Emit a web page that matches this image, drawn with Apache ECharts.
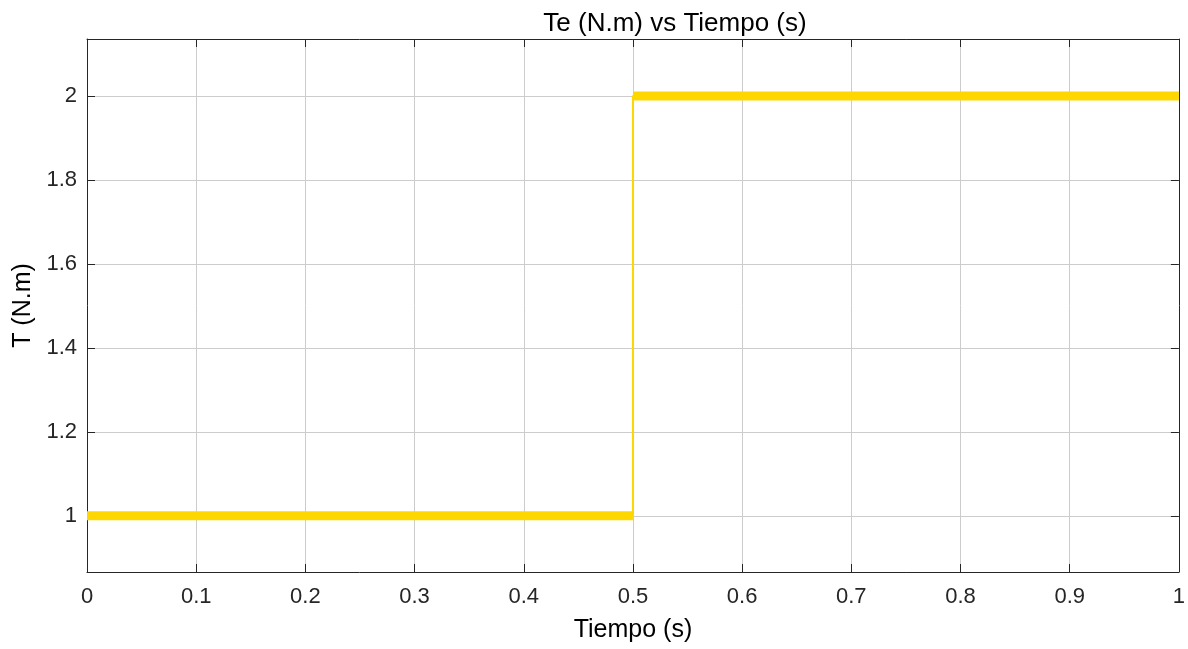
<!DOCTYPE html>
<html>
<head>
<meta charset="utf-8">
<script src="https://cdn.jsdelivr.net/npm/echarts@6/dist/echarts.min.js"></script>
<style>
html,body{margin:0;padding:0;background:#fff;}
#chart{width:1188px;height:649px;}
</style>
</head>
<body>
<div id="chart"></div>
<script>
// Data
var tiempo = [0, 0.5, 0.5, 1];
var torque = [1, 1, 2, 2];
var xTicks = [0, 0.1, 0.2, 0.3, 0.4, 0.5, 0.6, 0.7, 0.8, 0.9, 1];
var yTicks = [1, 1.2, 1.4, 1.6, 1.8, 2];
var xRange = [0, 1];
var yRange = [0.866, 2.136];

var stepData = tiempo.map(function (t, i) { return [t, torque[i]]; });
// flat segments (drawn thick) — break where value changes
var flatData = [];
for (var i = 0; i < tiempo.length; i++) {
  if (i > 0 && torque[i] !== torque[i - 1]) flatData.push([tiempo[i], '-']);
  flatData.push([tiempo[i], torque[i]]);
}

var font = 'Liberation Sans, Arial, Helvetica, sans-serif';
var axisColor = '#262626';
var gridColor = '#cccccc';

function fmt(v) { return String(Math.round(v * 10) / 10); }

var chart = echarts.init(document.getElementById('chart'), null, { renderer: 'canvas' });
chart.setOption({
  backgroundColor: '#fff',
  animation: false,
  title: {
    text: 'Te (N.m) vs Tiempo (s)',
    left: 670, textAlign: 'center', top: 6,
    textStyle: { fontFamily: font, fontSize: 26, fontWeight: 'normal', color: '#000' }
  },
  grid: { left: 87, right: 9, top: 39, bottom: 77, containLabel: false },
  xAxis: [{
    type: 'value', min: xRange[0], max: xRange[1], position: 'bottom',
    name: 'Tiempo (s)', nameLocation: 'middle', nameGap: 46,
    nameTextStyle: { fontFamily: font, fontSize: 25, color: '#000' },
    axisLine: { show: true, onZero: false, lineStyle: { color: axisColor, width: 1 } },
    axisTick: { show: true, inside: true, length: 8, customValues: xTicks, lineStyle: { color: axisColor } },
    axisLabel: { customValues: xTicks, formatter: fmt, margin: 14, fontFamily: font, fontSize: 22, color: axisColor },
    splitLine: { show: true, lineStyle: { color: gridColor, width: 1 } }
  }, {
    type: 'value', min: xRange[0], max: xRange[1], position: 'top',
    axisLine: { show: true, onZero: false, lineStyle: { color: axisColor, width: 1 } },
    axisTick: { show: true, inside: true, length: 8, customValues: xTicks, lineStyle: { color: axisColor } },
    axisLabel: { show: false, customValues: xTicks },
    splitLine: { show: false }
  }],
  yAxis: [{
    type: 'value', min: yRange[0], max: yRange[1], position: 'left',
    name: 'T (N.m)', nameLocation: 'middle', nameGap: 49, nameRotate: 90,
    nameTextStyle: { fontFamily: font, fontSize: 25, color: '#000' },
    axisLine: { show: true, onZero: false, lineStyle: { color: axisColor, width: 1 } },
    axisTick: { show: true, inside: true, length: 8, customValues: yTicks, lineStyle: { color: axisColor } },
    axisLabel: { customValues: yTicks, formatter: fmt, margin: 10, fontFamily: font, fontSize: 22, color: axisColor },
    splitLine: { show: true, lineStyle: { color: gridColor, width: 1 } }
  }, {
    type: 'value', min: yRange[0], max: yRange[1], position: 'right',
    axisLine: { show: true, onZero: false, lineStyle: { color: axisColor, width: 1 } },
    axisTick: { show: true, inside: true, length: 8, customValues: yTicks, lineStyle: { color: axisColor } },
    axisLabel: { show: false, customValues: yTicks },
    splitLine: { show: false }
  }],
  series: [{
    type: 'line', data: stepData, showSymbol: false, symbol: 'none',
    lineStyle: { color: '#FFD700', width: 2 }, z: 3
  }, {
    type: 'line', data: flatData, showSymbol: false, symbol: 'none', connectNulls: false,
    lineStyle: { color: '#FFD700', width: 9, cap: 'butt' }, z: 4
  }]
});
</script>
</body>
</html>
